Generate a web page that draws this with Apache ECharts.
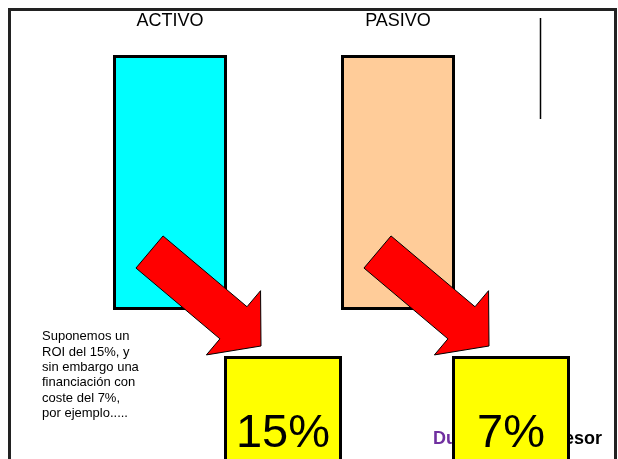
<!DOCTYPE html>
<html>
<head>
<meta charset="utf-8">
<script src="https://cdn.jsdelivr.net/npm/echarts@6/dist/echarts.min.js"></script>
<style>
  html, body { margin: 0; padding: 0; background: #fff; }
  #chart { width: 618px; height: 459px; }
</style>
</head>
<body>
<div id="chart"></div>
<script>
// datos del gráfico
const categories = ['ACTIVO', 'PASIVO']
const barValues = [100, 100]
const rates = [15, 7] // ROI y coste de la financiación
const noteLines = [
  'Suponemos un',
  'ROI del 15%, y',
  'sin embargo una',
  'financiación con',
  'coste del 7%,',
  'por ejemplo.....'
]
const footerLeft = 'Du'
const footerRight = 'esor'

const barColors = ['#00FFFF', '#FFCC99']
const FONT = '"Liberation Sans", Arial, sans-serif'

const chart = echarts.init(document.getElementById('chart'))

// flecha desde la cola (t) hasta la punta (p)
function arrowPoints(t, p) {
  const dx = p[0] - t[0]
  const dy = p[1] - t[1]
  const len = Math.sqrt(dx * dx + dy * dy)
  const ux = dx / len
  const uy = dy / len
  const nx = -uy
  const ny = ux
  const w = 21 // media anchura del cuerpo
  const h = 42 // media anchura de la cabeza
  const hl = 36 // largo de la cabeza
  const bx = p[0] - ux * hl
  const by = p[1] - uy * hl
  return [
    [t[0] - nx * w, t[1] - ny * w],
    [bx - nx * w, by - ny * w],
    [bx - nx * h, by - ny * h],
    [p[0], p[1]],
    [bx + nx * h, by + ny * h],
    [bx + nx * w, by + ny * w],
    [t[0] + nx * w, t[1] + ny * w]
  ]
}

const option = {
  animation: false,
  backgroundColor: '#fff',
  grid: { left: 56, width: 456, top: 55, bottom: 149 },
  xAxis: {
    type: 'category',
    position: 'top',
    data: categories,
    axisLine: { show: false },
    axisTick: { show: false },
    axisLabel: { margin: 25, fontFamily: FONT, fontSize: 18, color: '#000' }
  },
  yAxis: { type: 'value', min: 0, max: 100, show: false },
  graphic: [
    {
      type: 'rect',
      z: 0,
      shape: { x: 9.5, y: 9.5, width: 606, height: 470 },
      style: { fill: null, stroke: '#222', lineWidth: 3 }
    },
    {
      type: 'line',
      z: 0,
      shape: { x1: 540.5, y1: 18, x2: 540.5, y2: 119 },
      style: { stroke: '#000', lineWidth: 1.5 }
    },
    {
      type: 'text',
      z: 0,
      left: 42,
      top: 329,
      style: {
        text: noteLines.join('\n'),
        font: '13px ' + FONT,
        lineHeight: 15.4,
        fill: '#000'
      }
    },
    {
      type: 'text',
      z: 0,
      left: 433,
      top: 430,
      style: { text: footerLeft, font: 'bold 18px ' + FONT, fill: '#7030A0' }
    },
    {
      type: 'text',
      z: 0,
      right: 16,
      top: 430,
      style: { text: footerRight, font: 'bold 18px ' + FONT, fill: '#000' }
    }
  ],
  series: [
    {
      type: 'bar',
      z: 2,
      barWidth: 114,
      data: barValues.map((v, i) => ({
        value: v,
        itemStyle: { color: barColors[i], borderColor: '#000', borderWidth: 3 }
      }))
    },
    {
      type: 'custom',
      z: 5,
      clip: false,
      data: rates.map((r, i) => [i, r]),
      renderItem: function(params, api) {
        const base = api.coord([api.value(0), 0])
        const cx = base[0]
        const by = base[1]
        const tail = [cx - 20.5, by - 58]
        const tip = [cx + 91, by + 36]
        return {
          type: 'group',
          children: [
            {
              type: 'polygon',
              shape: { points: arrowPoints(tail, tip) },
              style: { fill: '#FF0000', stroke: '#000', lineWidth: 1 }
            },
            {
              type: 'rect',
              shape: { x: cx + 55.5, y: by + 47.5, width: 115, height: 120 },
              style: { fill: '#FFFF00', stroke: '#000', lineWidth: 3 }
            },
            {
              type: 'text',
              x: cx + 113,
              y: by + 148,
              style: {
                text: api.value(1) + '%',
                font: '47px ' + FONT,
                fill: '#000',
                align: 'center',
                verticalAlign: 'bottom'
              }
            }
          ]
        }
      }
    }
  ]
}

chart.setOption(option)
</script>
</body>
</html>
